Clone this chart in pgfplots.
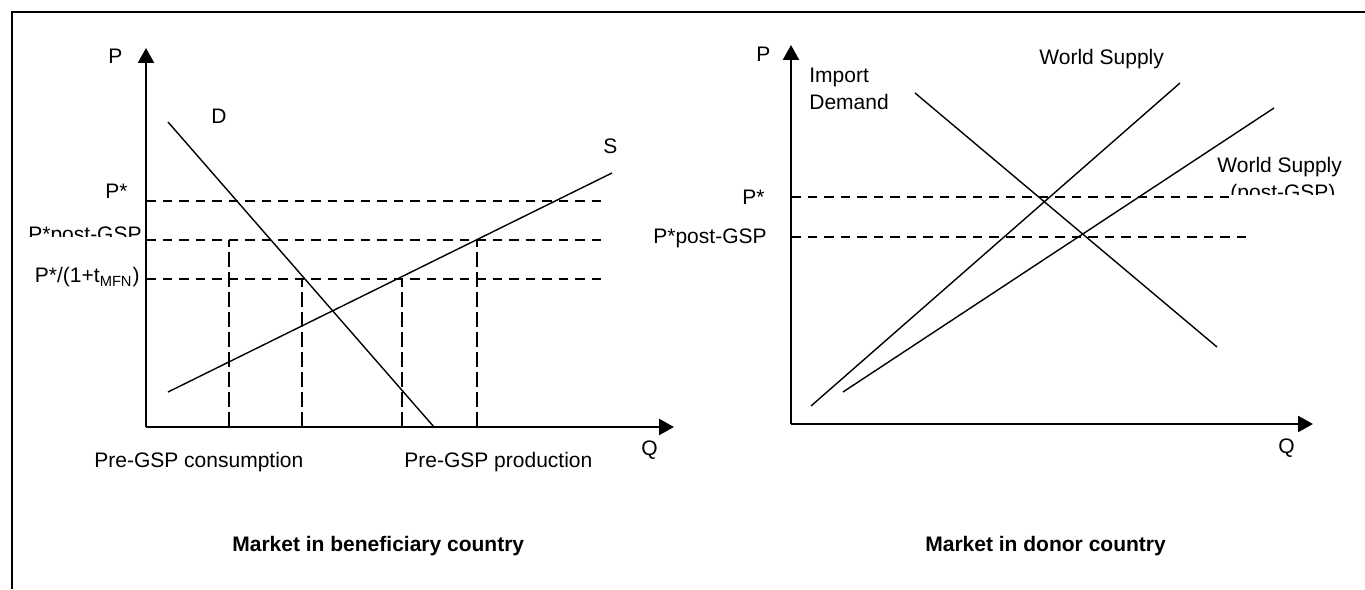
\documentclass[border=0pt]{standalone}
\usepackage{fontspec}
\setmainfont{Liberation Sans}
\usepackage{pgfplots}
\pgfplotsset{compat=1.18}
\usetikzlibrary{arrows.meta}
\begin{document}
\begin{tikzpicture}[x=0.5pt,y=0.5pt,font=\fontsize{10.5}{13}\selectfont,
  lbl/.style={inner sep=0pt,anchor=base west},
  lble/.style={inner sep=0pt,anchor=base east}]
\path[use as bounding box] (0,0) rectangle (1365,589);
\draw[line width=1pt] (12,0) -- (12,577) -- (1365,577);
\pgfplotsset{econ/.style={x=0.5pt,y=0.5pt,axis lines=left,
  axis line style={line width=1.2pt,-{Triangle[width=8pt,length=7.5pt]}},
  xtick=\empty,ytick=\empty,clip=false,anchor=south west},
  curve/.style={line width=0.7pt,black},
  hdash/.style={line width=0.75pt,black,dash pattern=on 4.75pt off 3.5pt},
  vdash/.style={line width=0.75pt,black,dash pattern=on 7.5pt off 2.5pt}}
% ---------------- left panel ----------------
\begin{axis}[econ,at={(146,162)},xmin=146,xmax=674,ymin=162,ymax=541]
\addplot[curve] coordinates {(168,467) (434,162)};
\addplot[curve] coordinates {(168,197) (612,416)};
\addplot[hdash] coordinates {(146,388) (602,388)};
\addplot[hdash] coordinates {(146,349) (602,349)};
\addplot[hdash] coordinates {(146,310) (602,310)};
\addplot[vdash] coordinates {(229,162) (229,349)};
\addplot[vdash] coordinates {(302,162) (302,310)};
\addplot[vdash] coordinates {(402,162) (402,310)};
\addplot[vdash] coordinates {(477,162) (477,349)};
\end{axis}
% ---------------- right panel ----------------
\begin{axis}[econ,at={(791,165)},xmin=791,xmax=1313,ymin=165,ymax=544]
\addplot[curve] coordinates {(915,496) (1217,242)};
\addplot[curve] coordinates {(811,183) (1180,506)};
\addplot[curve] coordinates {(843,197) (1274,481)};
\addplot[hdash] coordinates {(791,392) (1229,392)};
\addplot[hdash] coordinates {(791,352) (1246,352)};
\end{axis}
% ---------------- labels left ----------------
\node[lbl] at (108,525) {P};
\node[lbl] at (641,133) {Q};
\node[lbl] at (211,465) {D};
\node[lbl] at (603,435) {S};
\node[lble] at (128,390) {P*};
\begin{scope}
\clip (20,352) rectangle (146,380);
\node[lble] at (142,347) {P*post-GSP};
\end{scope}
\node[lble] at (140,306) {P*/(1+t\textsubscript{MFN})};
\node[lbl] at (94,121) {Pre-GSP consumption};
\node[lbl] at (404,121) {Pre-GSP production};
\node[lbl] at (232,38) {\bfseries Market in beneficiary country};
% ---------------- labels right ----------------
\node[lbl] at (756,527) {P};
\node[lbl] at (1278,135) {Q};
\node[lbl] at (809,506) {Import};
\node[lbl] at (809,479) {Demand};
\node[lbl] at (1039,524) {World Supply};
\node[lbl] at (1217,416) {World Supply};
\begin{scope}
\clip (1225,394) rectangle (1365,410);
\node[lbl] at (1230,389) {(post-GSP)};
\end{scope}
\node[lble] at (765,384) {P*};
\node[lble] at (767,345) {P*post-GSP};
\node[lbl] at (925,38) {\bfseries Market in donor country};
\end{tikzpicture}
\end{document}
